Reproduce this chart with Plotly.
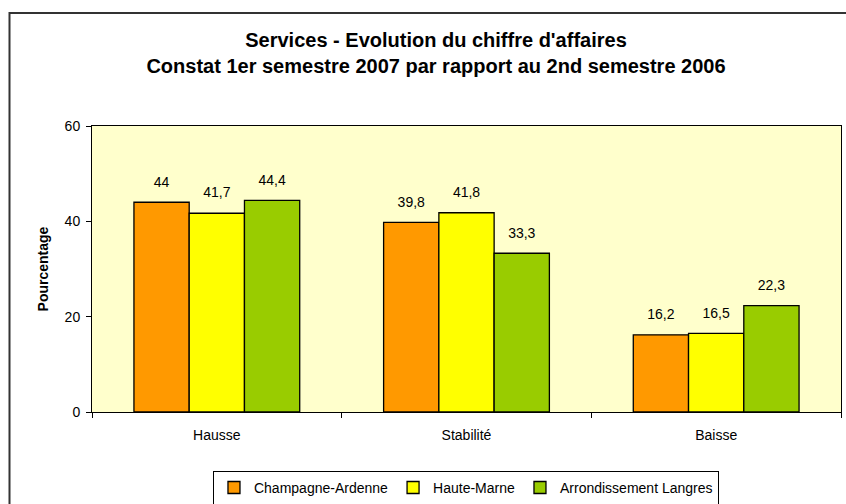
import plotly.graph_objects as go

categories = ["Hausse", "Stabilité", "Baisse"]
series_names = ["Champagne-Ardenne", "Haute-Marne", "Arrondissement Langres"]
champagne = [44, 39.8, 16.2]
haute_marne = [41.7, 41.8, 16.5]
langres = [44.4, 33.3, 22.3]
y_ticks = [0, 20, 40, 60]

colors = ["#FF9900", "#FFFF00", "#99CC00"]
FONT = "Liberation Sans, Arial, sans-serif"

W, H = 846, 504


def fmt(v):
    return ("%g" % v).replace(".", ",")


fig = go.Figure()
for i, (name, vals, col) in enumerate(zip(series_names, [champagne, haute_marne, langres], colors)):
    fig.add_trace(go.Bar(
        name=name, x=categories, y=vals, offsetgroup=str(i),
        marker=dict(color=col, line=dict(color="#000000", width=1.3)),
        hoverinfo="x+y",
    ))
for i, vals in enumerate([champagne, haute_marne, langres]):
    fig.add_trace(go.Scatter(
        x=categories, y=vals, offsetgroup=str(i), mode="markers+text",
        text=[fmt(v) for v in vals], textposition="top center",
        marker=dict(size=18, opacity=0),
        textfont=dict(family=FONT, size=14, color="#000000"),
        showlegend=False, hoverinfo="skip", cliponaxis=False,
    ))

fig.update_layout(
    width=W, height=H,
    margin=dict(l=92, r=5, t=126, b=92, autoexpand=False),
    paper_bgcolor="#FFFFFF", plot_bgcolor="#FFFFCC",
    barmode="group", bargap=0.336, bargroupgap=0,
    scattermode="group", scattergap=0.336,
    font=dict(family=FONT, size=14, color="#000000"),
    title=dict(
        text="<b>Services - Evolution du chiffre d'affaires<br>Constat 1er semestre 2007 par rapport au 2nd semestre 2006</b>",
        x=436 / W, xanchor="center", xref="container",
        y=1 - 47 / H, yanchor="middle", yref="container",
        font=dict(family=FONT, size=20, color="#000000"),
    ),
    showlegend=True,
    legend=dict(
        orientation="h", x=0.4993, xanchor="center", y=-0.206, yanchor="top",
        bordercolor="#000000", borderwidth=1, bgcolor="#FFFFFF",
        font=dict(family=FONT, size=14), itemwidth=30, tracegroupgap=0,
    ),
    xaxis=dict(
        showline=True, linecolor="#000000", linewidth=1, mirror=True,
        ticks="outside", tickson="boundaries", ticklen=5, tickcolor="#000000",
        showgrid=False, ticklabelstandoff=10, automargin=False,
        tickfont=dict(family=FONT, size=14),
    ),
    yaxis=dict(
        range=[0, 60], tickvals=y_ticks,
        showline=True, linecolor="#000000", linewidth=1, mirror=True,
        ticks="outside", ticklen=5, tickcolor="#000000",
        showgrid=False, zeroline=False, ticklabelstandoff=3, automargin=False,
        tickfont=dict(family=FONT, size=14),
        title=dict(text="<b>Pourcentage</b>", font=dict(family=FONT, size=14), standoff=12),
    ),
    shapes=[dict(
        type="rect", xref="paper", yref="paper",
        x0=(9.5 - 92) / 749, x1=(860 - 92) / 749,
        y0=(412 - 520) / 286, y1=(412 - 13) / 286,
        line=dict(color="#333333", width=2), fillcolor="rgba(0,0,0,0)", layer="below",
    )],
)

fig.write_html(
    "out.html",
    config={"displayModeBar": False},
    post_script="document.body.style.margin='0';document.body.style.overflow='hidden';",
)
